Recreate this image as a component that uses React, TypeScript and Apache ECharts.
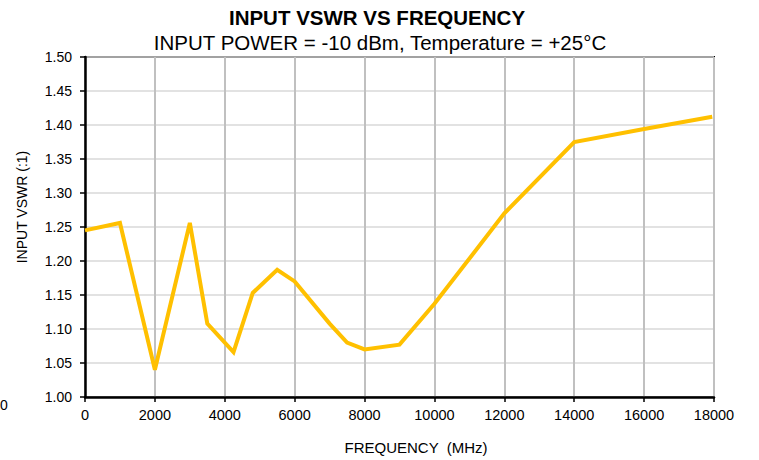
import React, { useEffect, useRef } from "react";
import * as echarts from "echarts";

// Data
const frequencyMHz = [0, 1000, 2000, 3000, 3500, 4250, 4800, 5500, 6000, 7000, 7500, 8000, 9000, 10000, 12000, 14000, 16000, 17950];
const inputVSWR = [1.245, 1.256, 1.04, 1.256, 1.108, 1.066, 1.153, 1.187, 1.17, 1.108, 1.08, 1.07, 1.077, 1.137, 1.27, 1.375, 1.394, 1.412];

const xMin = 0;
const xMax = 18000;
const xStep = 2000;
const yMin = 1.0;
const yMax = 1.5;
const yStep = 0.05;

const titleText = "INPUT VSWR VS FREQUENCY";
const subtitleText = "INPUT POWER = -10 dBm, Temperature = +25°C";
const xName = "FREQUENCY  (MHz)";
const yName = "INPUT VSWR (:1)";

const FONT = "'Liberation Sans', Arial, Helvetica, sans-serif";

export default function App() {
  const ref = useRef<HTMLDivElement>(null);

  useEffect(() => {
    if (!ref.current) return;
    const chart = echarts.init(ref.current, null, { renderer: "svg" });
    const data = frequencyMHz.map((f, i) => [f, inputVSWR[i]]);
    chart.setOption({
      animation: false,
      backgroundColor: "#ffffff",
      textStyle: { fontFamily: FONT },
      grid: {
        left: 85,
        right: 45,
        top: 57,
        bottom: 63,
        show: true,
        borderColor: "#000000",
        borderWidth: 2,
        backgroundColor: "transparent",
      },
      xAxis: {
        type: "value",
        min: xMin,
        max: xMax,
        interval: xStep,
        axisLine: { show: true, onZero: false, lineStyle: { color: "#000", width: 2.5 } },
        axisTick: { show: true, length: 5, lineStyle: { color: "#000", width: 1.5 } },
        axisLabel: {
          color: "#000",
          fontSize: 14.5,
          fontFamily: FONT,
          margin: 10,
          formatter: (v: number) => String(Math.round(v)),
        },
        splitLine: { show: true, lineStyle: { color: "#c0c0c0", width: 2 } },
      },
      yAxis: {
        type: "value",
        min: yMin,
        max: yMax,
        interval: yStep,
        axisLine: { show: true, onZero: false, lineStyle: { color: "#000", width: 2.5 } },
        axisTick: { show: true, length: 5, lineStyle: { color: "#000", width: 1.5 } },
        axisLabel: {
          color: "#000",
          fontSize: 14,
          fontFamily: FONT,
          margin: 13,
          formatter: (v: number) => v.toFixed(2),
        },
        splitLine: { show: true, lineStyle: { color: "#d9d9d9", width: 1.5 } },
      },
      series: [
        {
          type: "line",
          data,
          showSymbol: false,
          symbol: "none",
          lineStyle: { color: "#FFC000", width: 4, join: "miter" },
          itemStyle: { color: "#FFC000" },
          z: 5,
        },
      ],
      graphic: [
        {
          type: "text",
          x: 377,
          y: 17,
          style: { text: titleText, font: `bold 20.5px ${FONT}`, fill: "#000", align: "center", verticalAlign: "middle" },
        },
        {
          type: "text",
          x: 380,
          y: 42,
          style: { text: subtitleText, font: `20.5px ${FONT}`, fill: "#000", align: "center", verticalAlign: "middle" },
        },
        {
          type: "text",
          x: 416,
          y: 447,
          style: { text: xName, font: `15px ${FONT}`, fill: "#000", align: "center", verticalAlign: "middle" },
        },
        {
          type: "text",
          x: 22,
          y: 207,
          rotation: Math.PI / 2,
          style: { text: yName, font: `14px ${FONT}`, fill: "#000", align: "center", verticalAlign: "middle" },
        },
        {
          type: "text",
          x: 0,
          y: 405,
          style: { text: "0", font: `14px ${FONT}`, fill: "#000", align: "left", verticalAlign: "middle" },
        },
      ],
    });
    return () => chart.dispose();
  }, []);

  return (
    <div
      ref={ref}
      style={{ position: "absolute", left: 0, top: 0, width: 759, height: 460 }}
    />
  );
}
